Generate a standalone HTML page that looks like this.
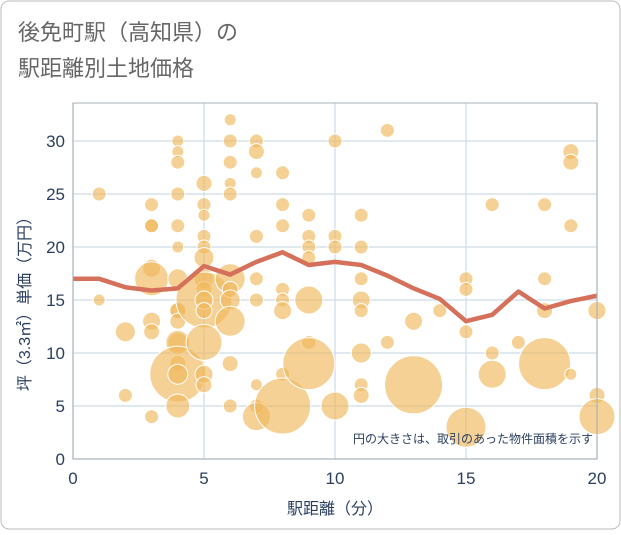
<!DOCTYPE html>
<html><head><meta charset="utf-8"><style>
body{margin:0;background:#fff;font-family:"Liberation Sans","Noto Sans CJK JP",sans-serif}
#wrap{position:relative;width:621px;height:530px}
</style></head><body>
<div id="wrap">
<svg id="chart" width="621" height="530" xmlns="http://www.w3.org/2000/svg">
<rect x="1" y="1" width="619" height="528" rx="8" fill="#fff" stroke="#bbb"/>
<text x="18" y="40" font-size="22" fill="#666" font-family="Liberation Sans,Noto Sans CJK JP,sans-serif">後免町駅（高知県）の</text>
<text x="18" y="76" font-size="22" fill="#666" font-family="Liberation Sans,Noto Sans CJK JP,sans-serif">駅距離別土地価格</text>
<g id="grid"></g>
<g id="bubbles"></g>
<g id="line"></g>
<g id="axes"></g>
<text x="593" y="443" font-size="12" fill="#2a3f5f" text-anchor="end" font-family="Liberation Sans,Noto Sans CJK JP,sans-serif">円の大きさは、取引のあった物件面積を示す</text>
<text x="335" y="514" font-size="16" fill="#2a3f5f" text-anchor="middle" font-family="Liberation Sans,Noto Sans CJK JP,sans-serif">駅距離（分）</text>
<text transform="translate(30,300) rotate(-90)" font-size="16" fill="#2a3f5f" text-anchor="middle" font-family="Liberation Sans,Noto Sans CJK JP,sans-serif">坪（3.3㎡）単価（万円）</text>
</svg>
</div>
<script>
const xTicks=[0,5,10,15,20];
const yTicks=[0,5,10,15,20,25,30];
const bubX=[1,1,2,2,3,3,3,3,3,3,3,3,4,4,4,4,4,4,4,4,4,4,4,4,4,4,4,4,5,5,5,5,5,5,5,5,5,5,5,5,5,5,6,6,6,6,6,6,6,6,6,6,6,7,7,7,7,7,7,7,7,7,8,8,8,8,8,8,8,8,9,9,9,9,9,9,9,10,10,10,10,11,11,11,11,11,11,11,11,12,12,13,13,14,15,15,15,15,16,16,16,17,18,18,18,18,19,19,19,19,20,20,20];
const bubY=[25,15,12,6,24,22,22,18,17,13,12,4,30,29,28,25,22,20,17,14,14,13,11,11,9,8,8,5,26,24,23,21,20,19,17,16,15,15,14,11,8,7,32,30,28,26,25,17,16,15,13,9,5,30,29,27,21,17,15,7,5,4,27,24,22,16,15,14,8,5,23,21,20,19,15,11,9,30,21,20,5,23,20,17,15,14,10,7,6,31,11,13,7,14,17,16,12,3,24,10,8,11,24,17,14,9,29,28,22,8,14,6,4];
const bubSize=[7,6,10,7,7,7,7,9,17,9,8,7,6,6,7,7,7,6,10,9,8,8,10,12,8,28,10,12,8,7,6,7,7,10,10,8,28,9,8,18,9,8,6,7,7,6,7,15,8,10,15,8,7,7,8,6,7,7,7,6,7,14,7,7,7,7,7,9,7,28,7,7,7,7,14,7,26,7,7,7,14,7,7,7,9,7,10,7,8,7,7,9,29,7,7,7,7,20,7,7,14,7,7,7,8,26,8,8,7,6,9,8,18];
const lineX=[0,1,2,3,4,5,6,7,8,9,10,11,12,13,14,15,16,17,18,19,20];
const lineY=[17,17,16.2,15.9,16.1,18.2,17.4,18.6,19.5,18.3,18.6,18.3,17.3,16.1,15.1,13,13.6,15.8,14.2,14.9,15.4];
const X0=73,X1=597,Y0=459,Y1=141;
const sx=v=>X0+(X1-X0)*v/20;
const sy=v=>Y0-(Y0-Y1)*v/30;
const NS='http://www.w3.org/2000/svg';
function mk(t,p,a){const e=document.createElementNS(NS,t);for(const k in a)e.setAttribute(k,a[k]);p.appendChild(e);return e;}
const grid=document.getElementById('grid'),axes=document.getElementById('axes');
xTicks.forEach(t=>{const l=mk('line',grid,{x1:sx(t),x2:sx(t),y1:103,y2:Y0,stroke:'#d5e0ec','stroke-width':1.5});


const tx=mk('text',axes,{x:sx(t),y:Y0+25,'font-size':17,fill:'#2a3f5f','text-anchor':'middle'});tx.textContent=t;

});
yTicks.forEach(t=>{const l=mk('line',grid,{x1:X0,x2:X1,y1:sy(t),y2:sy(t),stroke:'#d5e0ec','stroke-width':1.5});


const tx=mk('text',axes,{x:X0-8,y:sy(t)+6,'font-size':17,fill:'#2a3f5f','text-anchor':'end'});tx.textContent=t;

});
const fr=mk('rect',axes,{x:X0,y:103,width:X1-X0,height:Y0-103,fill:'none',stroke:'#a8b0b8','stroke-width':1});


const bg=document.getElementById('bubbles');
bubX.forEach((x,i)=>{const c=mk('circle',bg,{cx:sx(x),cy:sy(bubY[i]),r:bubSize[i],fill:'#f0b95c','fill-opacity':0.65,stroke:'#fff','stroke-width':1});

});
const pts=lineX.map((x,i)=>sx(x)+','+sy(lineY[i])).join(' ');
const pl=mk('polyline',document.getElementById('line'),{points:pts,fill:'none',stroke:'#d5705a','stroke-width':4.5,'stroke-linejoin':'round'});


</script>
</body></html>
